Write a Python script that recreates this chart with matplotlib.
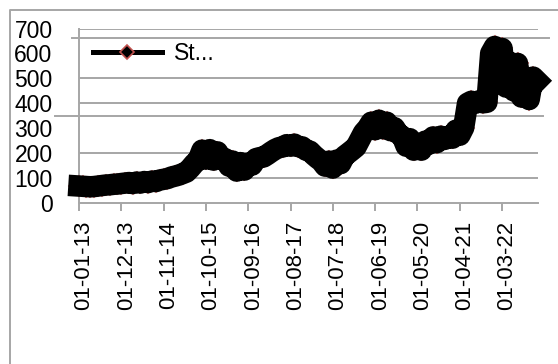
import matplotlib
matplotlib.use("Agg")
import matplotlib.pyplot as plt
import matplotlib.dates as mdates
from matplotlib.lines import Line2D
from matplotlib.transforms import ScaledTranslation
import pandas as pd

plt.rcParams["font.family"] = ["Liberation Sans", "DejaVu Sans"]

# Monthly closing prices, one list per calendar year
price_2013 = [68, 67, 66, 65, 66, 68, 70, 72, 73, 75, 76, 78]
price_2014 = [80, 82, 78, 84, 80, 86, 82, 88, 86, 92, 95, 98]
price_2015 = [104, 108, 112, 118, 124, 140, 158, 172, 212, 176, 214, 172]
price_2016 = [205, 178, 178, 148, 168, 128, 162, 132, 160, 152, 178, 182]
price_2017 = [185, 195, 205, 215, 222, 225, 234, 228, 236, 226, 225, 212]
price_2018 = [208, 192, 180, 168, 148, 168, 140, 172, 158, 188, 200, 212]
price_2019 = [225, 255, 282, 300, 324, 294, 332, 298, 324, 290, 302, 278]
price_2020 = [268, 228, 258, 212, 235, 212, 248, 236, 265, 242, 268, 255]
price_2021 = [268, 260, 292, 272, 302, 400, 408, 400, 410, 402, 404, 600]
price_2022 = [628, 555, 620, 465, 565, 450, 560, 425, 505, 415, 505, 490]

series_name = "St..."
first_month = "2013-01-01"
last_tick = "2022-03-01"
axis_end = "2022-12-10"
y_ticks = [0, 100, 200, 300, 400, 500, 600, 700]
grid_values = [100, 200, 400, 500, 700]

prices = (price_2013 + price_2014 + price_2015 + price_2016 + price_2017
          + price_2018 + price_2019 + price_2020 + price_2021 + price_2022)
dates = pd.date_range(first_month, periods=len(prices), freq="MS")
tick_dates = pd.date_range(first_month, last_tick, freq="11MS")

GRID = "#a6a6a6"
W, H = 558, 364

fig = plt.figure(figsize=(W / 100, H / 100), dpi=100)
ax = fig.add_axes([79 / W, 1 - 203 / H, (538 - 79) / W, (203 - 28.5) / H])
ax.set_facecolor("white")

# horizontal guide lines
for v in grid_values:
    ax.axhline(v, color=GRID, lw=1.4, zorder=1)
span = 538 - 79
ax.axhline(348, xmin=(55 - 79) / span, xmax=(543 - 79) / span,
           color=GRID, lw=1.4, zorder=1, clip_on=False)
ax.axhline(661, xmin=(72 - 79) / span, xmax=(549 - 79) / span,
           color=GRID, lw=1.4, zorder=1, clip_on=False)

# price series: diamond markers underneath a heavy line
ax.plot(dates, prices, ls="none", marker="D", ms=10.5, mfc="black",
        mec="#c0504d", mew=1.2, zorder=3, clip_on=False)
ax.plot(dates, prices, color="black", lw=15.5, zorder=4, clip_on=False,
        solid_capstyle="projecting")

ax.set_ylim(0, 700)
ax.set_xlim(pd.Timestamp(first_month), pd.Timestamp(axis_end))

ax.set_yticks(y_ticks)
ax.tick_params(axis="y", length=0, pad=19, labelsize=16.5)

ax.set_xticks(tick_dates)
ax.xaxis.set_major_formatter(mdates.DateFormatter("%d-%m-%y"))
ax.tick_params(axis="x", length=6, width=1.4, color=GRID, pad=7,
               labelsize=16, direction="out")
shift = ScaledTranslation(5 / 100, 0, fig.dpi_scale_trans)
for lbl in ax.get_xticklabels():
    lbl.set_rotation(90)
    lbl.set_ha("center")
    lbl.set_va("top")
    lbl.set_transform(lbl.get_transform() + shift)

for side in ("top", "right"):
    ax.spines[side].set_visible(False)
for side in ("left", "bottom"):
    ax.spines[side].set_color(GRID)
    ax.spines[side].set_linewidth(1.4)

handle = Line2D([], [], color="black", lw=3.6, marker="D", ms=7.5,
                mfc="black", mec="#c0504d", mew=1.2)
ax.legend([handle], [series_name], loc="center left",
          bbox_to_anchor=((93 - 79) / span, (203 - 54) / (203 - 28.5)),
          frameon=False, borderpad=0, borderaxespad=0,
          handlelength=3.0, handletextpad=0.55, fontsize=16.5)

# chart frame
fig.add_artist(Line2D([10 / W, 10 / W, 1], [0, 1 - 10 / H, 1 - 10 / H],
                      transform=fig.transFigure, color=GRID, lw=1.4))

fig.savefig("out.png", dpi=100)
